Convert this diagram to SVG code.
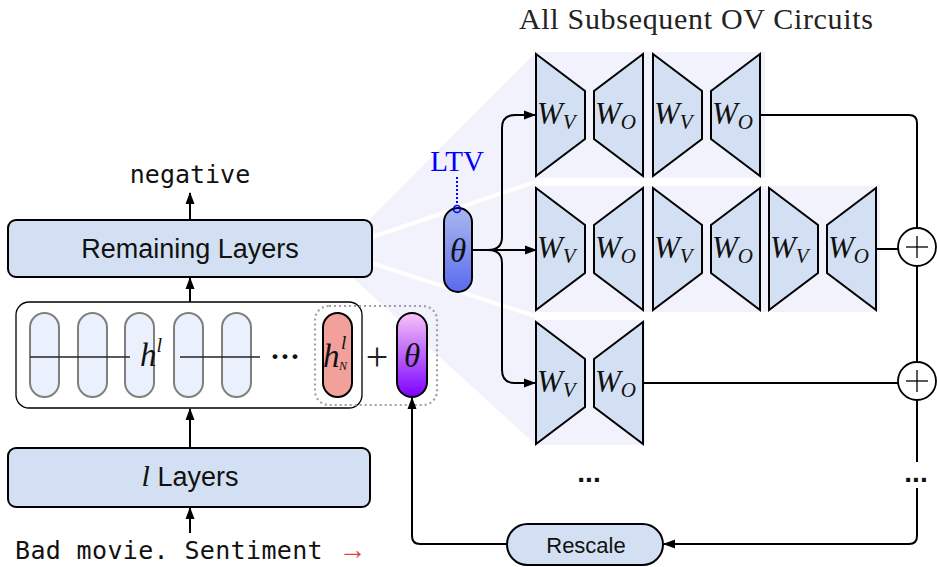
<svg xmlns="http://www.w3.org/2000/svg" width="937" height="567" viewBox="0 0 937 567">
<style>
.box{fill:#d3e0f3;stroke:#000;stroke-width:2}
.sans{font-family:"Liberation Sans",Arial,sans-serif;fill:#111}
.mono{font-family:"DejaVu Sans Mono","Liberation Mono",monospace;fill:#111}
.serif{font-family:"Liberation Serif","Times New Roman",serif}
.it{font-family:"Liberation Serif","Times New Roman",serif;font-style:italic;fill:#111}
.trap{fill:#d3e0f3;stroke:#000;stroke-width:2;stroke-linejoin:miter}
.w{font-family:"Liberation Serif","Times New Roman",serif;font-style:italic;font-size:31px;fill:#111}
.sub{font-size:21px}
.hp{fill:#eaf1fd;stroke:#808080;stroke-width:2}
.panel{fill:#f2f2fc}
.ln{fill:none;stroke:#000;stroke-width:2}
.arr{fill:none;stroke:#000;stroke-width:2;marker-end:url(#ah)}
.plus{fill:#fff;stroke:#000;stroke-width:1.8}
.pl{stroke:#000;stroke-width:1.3}
</style>
<defs>
<marker id="ah" viewBox="0 0 12 10" refX="11" refY="5" markerWidth="12" markerHeight="10" markerUnits="userSpaceOnUse" orient="auto"><path d="M0,0.5 L12,5 L0,9.5 z" fill="#000"/></marker>
<linearGradient id="gp" x1="0" y1="0" x2="0" y2="1"><stop offset="0" stop-color="#f8c4f8"/><stop offset="1" stop-color="#7d00ff"/></linearGradient>
<linearGradient id="gb" x1="0" y1="0" x2="0" y2="1"><stop offset="0" stop-color="#aab9ee"/><stop offset="1" stop-color="#5a6af0"/></linearGradient>
</defs>

<!-- fan and panels -->
<g id="fan">
<polygon points="331,258 535,53 535,444" fill="#f2f2fc"/>
<line x1="331" y1="251" x2="535" y2="182" stroke="#fff" stroke-width="4"/>
<line x1="331" y1="250" x2="535" y2="316" stroke="#fff" stroke-width="4"/>
<rect class="panel" x="535" y="52" width="230" height="126"/>
<rect class="panel" x="535" y="186" width="345" height="126"/>
<rect class="panel" x="535" y="320" width="110" height="125"/>
</g>

<text class="serif" x="519" y="29" font-size="30" textLength="354" lengthAdjust="spacing" fill="#222">All Subsequent OV Circuits</text>

<!-- left column -->
<g id="negative"><text class="mono" x="190" y="183" font-size="25" text-anchor="middle">negative</text></g>
<g id="remaining">
<rect class="box" x="8" y="220" width="364" height="57" rx="8"/>
<text class="sans" x="190" y="258" font-size="27" text-anchor="middle">Remaining Layers</text>
</g>

<g id="hidden">
<rect x="16" y="302" width="346" height="106" rx="13" fill="#fff" stroke="#000" stroke-width="1.3"/>
<rect class="hp" x="30" y="313" width="29" height="84" rx="14.5"/>
<rect class="hp" x="78" y="313" width="29" height="84" rx="14.5"/>
<rect class="hp" x="125" y="313" width="29" height="84" rx="14.5"/>
<rect class="hp" x="174" y="313" width="29" height="84" rx="14.5"/>
<rect class="hp" x="222" y="313" width="29" height="84" rx="14.5"/>
<line x1="30" y1="357" x2="130" y2="357" stroke="#222" stroke-width="1.3"/>
<line x1="180" y1="357" x2="260" y2="357" stroke="#222" stroke-width="1.3"/>
<text class="it" x="140" y="366" font-size="33">h<tspan font-size="20" dy="-14">l</tspan></text>
<text class="serif" x="285" y="366" font-size="30" font-weight="bold" text-anchor="middle" fill="#111">···</text>
</g>

<g id="hN">
<rect x="315" y="306" width="122" height="99" rx="14" fill="none" stroke="#a0a0a0" stroke-width="2.2" stroke-dasharray="2 3"/>
<rect x="323" y="313" width="29" height="84" rx="14.5" fill="#f2a09a" stroke="#000" stroke-width="2"/>
<text class="it" x="323" y="367" font-size="33">h</text>
<text class="it" x="341" y="349" font-size="19">l</text>
<text class="it" x="339" y="370" font-size="12">N</text>
<text class="serif" x="377" y="370" font-size="40" text-anchor="middle" fill="#222">+</text>
</g>

<g id="theta-purple">
<rect x="397" y="313" width="30" height="84" rx="15" fill="url(#gp)" stroke="#000" stroke-width="2"/>
<text class="it" x="412" y="367" font-size="33" text-anchor="middle">θ</text>
</g>

<g id="llayers">
<rect class="box" x="8" y="448" width="362" height="59" rx="8"/>
<text class="sans" x="190" y="486" font-size="27" text-anchor="middle"><tspan class="it" font-size="30">l</tspan> Layers</text>
</g>

<g id="input"><text class="mono" x="15" y="559" font-size="25" letter-spacing="0.35">Bad movie. Sentiment <tspan fill="#e8413c" style="font-family:'Liberation Serif',serif" font-size="28">→</tspan></text></g>

<!-- LTV theta -->
<g id="ltv">
<text class="serif" x="457" y="171" font-size="29" text-anchor="middle" fill="#0000ff">LTV</text>
<line x1="457" y1="177" x2="457" y2="205" stroke="#0000ff" stroke-width="2" stroke-dasharray="2 2"/>
</g>
<g id="theta-blue">
<rect x="444" y="208" width="28" height="84" rx="14" fill="url(#gb)" stroke="#000" stroke-width="2"/>
<text class="it" x="458" y="262" font-size="33" text-anchor="middle">θ</text>
<circle cx="457" cy="209" r="3.5" fill="none" stroke="#0000ff" stroke-width="1.6"/>
</g>

<!-- OV rows -->
<g id="row1">
<polygon class="trap" points="536,54 585,91 585,139 536,176"/>
<polygon class="trap" points="594,91 643,54 643,176 594,139"/>
<polygon class="trap" points="653,54 702,91 702,139 653,176"/>
<polygon class="trap" points="711,91 760,54 760,176 711,139"/>
<text class="w" x="537" y="124">W<tspan class="sub" dy="5">V</tspan></text>
<text class="w" x="595" y="124">W<tspan class="sub" dy="5">O</tspan></text>
<text class="w" x="654" y="124">W<tspan class="sub" dy="5">V</tspan></text>
<text class="w" x="712" y="124">W<tspan class="sub" dy="5">O</tspan></text>
</g>
<g id="row2">
<polygon class="trap" points="536,188 585,225 585,273 536,310"/>
<polygon class="trap" points="594,225 643,188 643,310 594,273"/>
<polygon class="trap" points="653,188 702,225 702,273 653,310"/>
<polygon class="trap" points="711,225 760,188 760,310 711,273"/>
<polygon class="trap" points="769,188 818,225 818,273 769,310"/>
<polygon class="trap" points="827,225 876,188 876,310 827,273"/>
<text class="w" x="537" y="258">W<tspan class="sub" dy="5">V</tspan></text>
<text class="w" x="595" y="258">W<tspan class="sub" dy="5">O</tspan></text>
<text class="w" x="654" y="258">W<tspan class="sub" dy="5">V</tspan></text>
<text class="w" x="712" y="258">W<tspan class="sub" dy="5">O</tspan></text>
<text class="w" x="770" y="258">W<tspan class="sub" dy="5">V</tspan></text>
<text class="w" x="828" y="258">W<tspan class="sub" dy="5">O</tspan></text>
</g>
<g id="row3">
<polygon class="trap" points="536,322 585,359 585,407 536,444"/>
<polygon class="trap" points="594,359 643,322 643,444 594,407"/>
<text class="w" x="537" y="392">W<tspan class="sub" dy="5">V</tspan></text>
<text class="w" x="595" y="392">W<tspan class="sub" dy="5">O</tspan></text>
</g>
<g id="dots">
<text class="sans" x="589" y="482" font-size="28" font-weight="bold" text-anchor="middle">...</text>
<text class="sans" x="916" y="482" font-size="28" font-weight="bold" text-anchor="middle">...</text>
</g>

<g id="sum1"><circle class="plus" cx="917" cy="247" r="19"/><line class="pl" x1="906" y1="247" x2="928" y2="247"/><line class="pl" x1="917" y1="236" x2="917" y2="258"/></g>
<g id="sum2"><circle class="plus" cx="917" cy="381" r="19"/><line class="pl" x1="906" y1="381" x2="928" y2="381"/><line class="pl" x1="917" y1="370" x2="917" y2="392"/></g>

<g id="rescale">
<rect x="507" y="524" width="156" height="41" rx="20.5" fill="#d3e0f3" stroke="#000" stroke-width="2"/>
<text class="sans" x="586" y="553" font-size="22" text-anchor="middle">Rescale</text>
</g>

<!-- connectors -->
<g id="connectors">
<line class="arr" x1="190" y1="220" x2="190" y2="193"/>
<line class="arr" x1="190" y1="302" x2="190" y2="278"/>
<line class="arr" x1="190" y1="448" x2="190" y2="409"/>
<line class="arr" x1="190" y1="533" x2="190" y2="508"/>
<path class="arr" d="M472,250 H536"/>
<path class="arr" d="M488,250 Q502,250 502,237 V128 Q502,115 515,115 H535"/>
<path class="arr" d="M488,250 Q502,250 502,263 V370 Q502,383 515,383 H535"/>
<path class="ln" d="M760,115 H909 Q917,115 917,123 V228"/>
<path class="ln" d="M917,266 V362"/>
<path class="ln" d="M917,400 V462"/>
<path class="arr" d="M917,488 V536 Q917,544 909,544 H664"/>
<path class="ln" d="M876,249 H898"/>
<path class="ln" d="M643,383 H898"/>
<path class="arr" d="M507,544 H420 Q412,544 412,536 V398"/>
</g>
</svg>
